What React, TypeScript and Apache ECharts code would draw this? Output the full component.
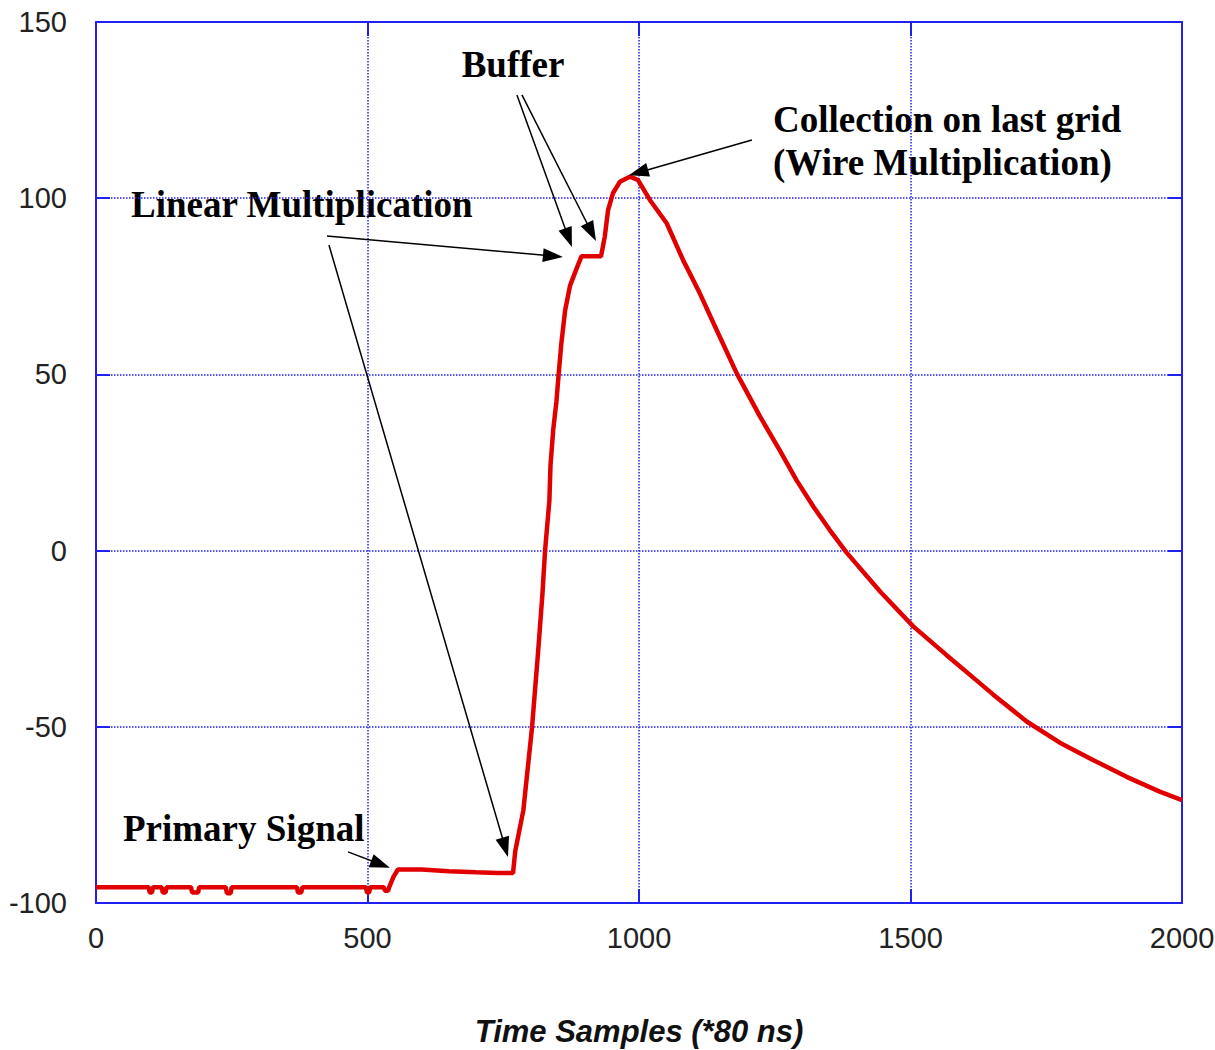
import React, { useEffect, useRef } from "react";
import * as echarts from "echarts";

// Time samples (*80 ns) and signal values
const timeSamples = [
  0, 97, 99, 103, 105, 121, 123, 128, 130, 175, 177, 188, 190, 239, 241, 248, 250,
  370, 372, 378, 380, 497, 499, 503, 505, 530, 532, 538, 540, 548, 556, 600, 650,
  700, 740, 768, 772, 787, 803, 814, 822, 827, 835, 837, 842, 848, 852, 857, 864,
  873, 885, 894, 930, 937, 943, 952, 965, 983, 998, 1020, 1051, 1081, 1112, 1143,
  1180, 1223, 1259, 1290, 1321, 1351, 1382, 1444, 1505, 1566, 1609, 1652, 1714,
  1775, 1836, 1898, 1959, 2000,
];
const signal = [
  -95.5, -95.5, -97, -97, -95.5, -95.5, -97, -97, -95.5, -95.5, -97, -97, -95.5,
  -95.5, -97.2, -97.2, -95.5, -95.5, -97, -97, -95.5, -95.5, -97, -97, -95.5, -95.5,
  -96.5, -96.5, -95.5, -92.5, -90.5, -90.5, -91, -91.3, -91.5, -91.5, -85.4, -73.7,
  -50.2, -29.1, -12.7, 0, 14.3, 24.2, 34.2, 42.4, 50, 58.8, 68.2, 75.2, 80, 83.5,
  83.5, 89.1, 96.6, 101.4, 104.7, 106.1, 105.2, 99.5, 92.9, 82.5, 73, 62.6, 50.3,
  38, 28.5, 20, 12.5, 5.9, -0.5, -11.6, -21.5, -29.6, -35.2, -40.8, -48.5, -54.5,
  -59.4, -64.2, -68.4, -70.8,
];
const xTicks = [0, 500, 1000, 1500, 2000];
const yTicks = [-100, -50, 0, 50, 100, 150];

// Annotation arrows: [tailX, tailY, headX, headY] in data units
const arrows = [
  [425.3, 89.3, 841.5, 83.6],
  [429, 86.7, 753.5, -84.2],
  [775.2, 129.3, 870.2, 88.8],
  [784.4, 129.3, 912.4, 90.4],
  [1207.9, 116.5, 999.1, 107.3],
  [464, -85.5, 524, -89.0],
];
const annotations = [
  { text: "Buffer", x: 513, y: 64, align: "center" },
  { text: "Linear Multiplication", x: 131, y: 204, align: "left" },
  { text: "Collection on last grid", x: 773, y: 119, align: "left" },
  { text: "(Wire Multiplication)", x: 773, y: 162, align: "left" },
  { text: "Primary Signal", x: 123, y: 828, align: "left" },
];

const BLUE = "#2020f0";

export default function App() {
  const ref = useRef<HTMLDivElement>(null);
  useEffect(() => {
    if (!ref.current) return;
    const chart = echarts.init(ref.current, undefined, { renderer: "svg" });
    const data = timeSamples.map((t, i) => [t, signal[i]]);
    const tickFont = {
      fontFamily: "Liberation Sans, Arial, sans-serif",
      fontSize: 29,
      color: "#222",
    };
    const frameLine = { show: true, onZero: false, lineStyle: { color: BLUE, width: 2 } };
    const frameTick = { show: true, inside: true, length: 14, lineStyle: { color: BLUE, width: 2 } };
    chart.setOption({
      animation: false,
      backgroundColor: "#fff",
      grid: { left: 96, right: 33, top: 22, bottom: 147, containLabel: false, outerBoundsMode: "none" },
      xAxis: [
        {
          type: "value",
          min: xTicks[0],
          max: xTicks[xTicks.length - 1],
          interval: 500,
          position: "bottom",
          name: "Time Samples (*80 ns)",
          nameLocation: "middle",
          nameGap: 113,
          nameTextStyle: {
            fontFamily: "Liberation Sans, Arial, sans-serif",
            fontSize: 31,
            fontStyle: "italic",
            fontWeight: "bold",
            color: "#111",
          },
          axisLine: frameLine,
          axisTick: frameTick,
          axisLabel: { ...tickFont, margin: 20, formatter: (v: number) => String(v) },
          splitLine: { show: true, lineStyle: { color: BLUE, type: "dotted", width: 1.5 } },
        },
        {
          type: "value",
          min: xTicks[0],
          max: xTicks[xTicks.length - 1],
          interval: 500,
          position: "top",
          axisLine: frameLine,
          axisTick: frameTick,
          axisLabel: { show: false },
          splitLine: { show: false },
        },
      ],
      yAxis: [
        {
          type: "value",
          min: yTicks[0],
          max: yTicks[yTicks.length - 1],
          interval: 50,
          position: "left",
          axisLine: frameLine,
          axisTick: frameTick,
          axisLabel: {
            ...tickFont,
            margin: 29,
            formatter: (v: number) => String(v),
          },
          splitLine: { show: true, lineStyle: { color: BLUE, type: "dotted", width: 1.5 } },
        },
        {
          type: "value",
          min: yTicks[0],
          max: yTicks[yTicks.length - 1],
          interval: 50,
          position: "right",
          axisLine: frameLine,
          axisTick: frameTick,
          axisLabel: { show: false },
          splitLine: { show: false },
        },
      ],
      series: [
        {
          type: "line",
          data,
          showSymbol: false,
          symbol: "none",
          lineStyle: { color: "#e00000", width: 4.5 },
          itemStyle: { color: "#e00000" },
          markLine: {
            silent: true,
            symbol: ["none", "triangle"],
            label: { show: false },
            lineStyle: { color: "#000", width: 1.5, type: "solid" },
            itemStyle: { color: "#000" },
            emphasis: { disabled: true },
            data: arrows.map((a) => [
              { coord: [a[0], a[1]], symbol: "none" },
              { coord: [a[2], a[3]], symbol: "triangle", symbolSize: [14, 20] },
            ]),
          },
        },
      ],
      graphic: annotations.map((a) => ({
        type: "text",
        x: a.x,
        y: a.y,
        silent: true,
        style: {
          text: a.text,
          fontFamily: "Liberation Serif, Times New Roman, serif",
          fontWeight: "bold",
          fontSize: 37,
          fill: "#000",
          align: a.align,
          verticalAlign: "middle",
        },
      })),
    });
    return () => chart.dispose();
  }, []);
  return (
    <div
      ref={ref}
      style={{ position: "fixed", left: 0, top: 0, width: 1215, height: 1050, background: "#fff" }}
    />
  );
}
